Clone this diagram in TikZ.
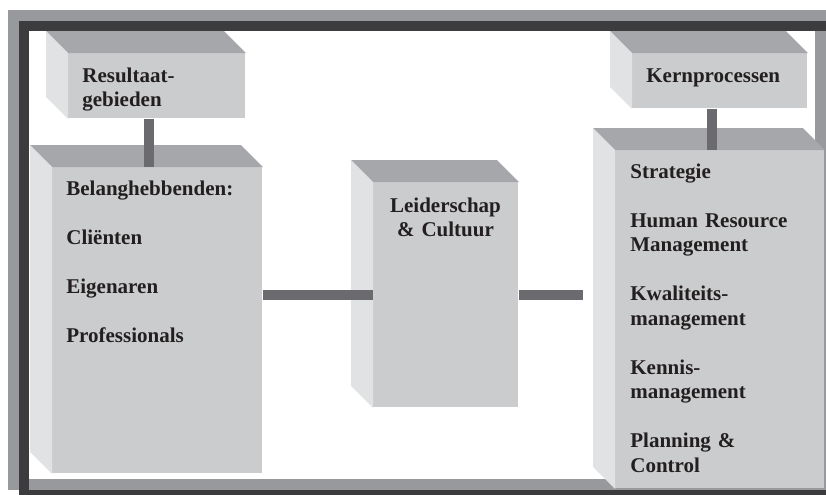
\documentclass[tikz,border=0pt]{standalone}
\usepackage{fontspec}
\setmainfont{Liberation Serif}
\usepackage{tikz}
\usetikzlibrary{calc}
\definecolor{facefront}{HTML}{CBCCCD}
\definecolor{facetop}{HTML}{A6A7AA}
\definecolor{faceleft}{HTML}{E1E2E3}
\definecolor{barcol}{HTML}{6B6B6F}
\definecolor{framelight}{HTML}{98999C}
\definecolor{framedark}{HTML}{3C3C3F}
\definecolor{ink}{HTML}{231F20}
\tikzset{front/.style = {fill = facefront, inner sep = 0, rectangle}}
\tikzset{topface/.style = {fill = facetop}}
\tikzset{leftface/.style = {fill = faceleft}}
\tikzset{bar/.style = {draw = barcol, line width = 5pt}}
\tikzset{txt/.style = {inner sep = 0, text = ink, text width = 110pt, align = left,
                       font = \fontsize{10.5}{12.25}\selectfont\bfseries}}
\newcommand{\gap}{12.25pt}
% box: name, x, y of the front face (top left), width, height
\newcommand{\block}[5]{%
  \node [front, minimum width = #4*0.5pt, minimum height = #5*0.5pt, anchor = north west] (#1) at (#2, #3) {};
  \fill [topface] (#1.north west) -- ++(-22, -22) -- ([shift = {(-22, -22)}]#1.north east) -- (#1.north east) -- cycle;
  \fill [leftface] (#1.north west) -- ++(-22, -22) -- ([shift = {(-22, -22)}]#1.south west) -- (#1.south west) -- cycle;
}

\begin{document}
\begin{tikzpicture}[x = 0.5pt, y = -0.5pt]
      \useasboundingbox (0, 0) rectangle (826, 494);
      \clip (0, 0) rectangle (826, 494);

      \draw [framelight, line width = 5.5pt] (13.5, 15.5) rectangle (820.5, 484.5);
      \draw [framedark, line width = 5.25pt] (24, 26) rectangle (831.5, 495.5);

      \block{res}{68}{53}{177}{65}
      \block{stake}{52}{167}{210}{306}
      \block{mid}{373}{182}{145}{225}
      \block{kern}{632}{53}{175}{55}
      \block{proc}{615}{150}{209}{338}

      \node [txt, anchor = base west] (res-t) at (82, 82) {Resultaat-\\gebieden};
      \node [txt, anchor = base west] (stake-t) at (66, 195)
        {Belanghebbenden:\\[\gap] Cliënten\\[\gap] Eigenaren\\[\gap] Professionals};
      \node [txt, anchor = base, align = center, text width = 70pt] (mid-t) at (445.5, 212)
        {Leiderschap\\\& Cultuur};
      \node [txt, anchor = base west] (kern-t) at (646, 82) {Kernprocessen};
      \node [txt, anchor = base west] (proc-t) at (630, 178)
        {Strategie\\[\gap] Human Resource\\Management\\[\gap] Kwaliteits-\\management\\[\gap]
         Kennis-\\management\\[\gap] Planning \&\\Control};

      \coordinate (proc-in) at ([xshift = -16pt]mid.east -| proc.west);

      \draw [bar] ([xshift = 40.25pt]res.south west) -- ([xshift = 40.25pt]res.south west |- stake.north);
      \draw [bar] ([xshift = 40pt]kern.south west) -- ([xshift = 40pt]kern.south west |- proc.north);
      \draw [bar] (mid.west -| stake.east) -- (mid.west);
      \draw [bar] (mid.east) -- (proc-in);
    \end{tikzpicture}
\end{document}
